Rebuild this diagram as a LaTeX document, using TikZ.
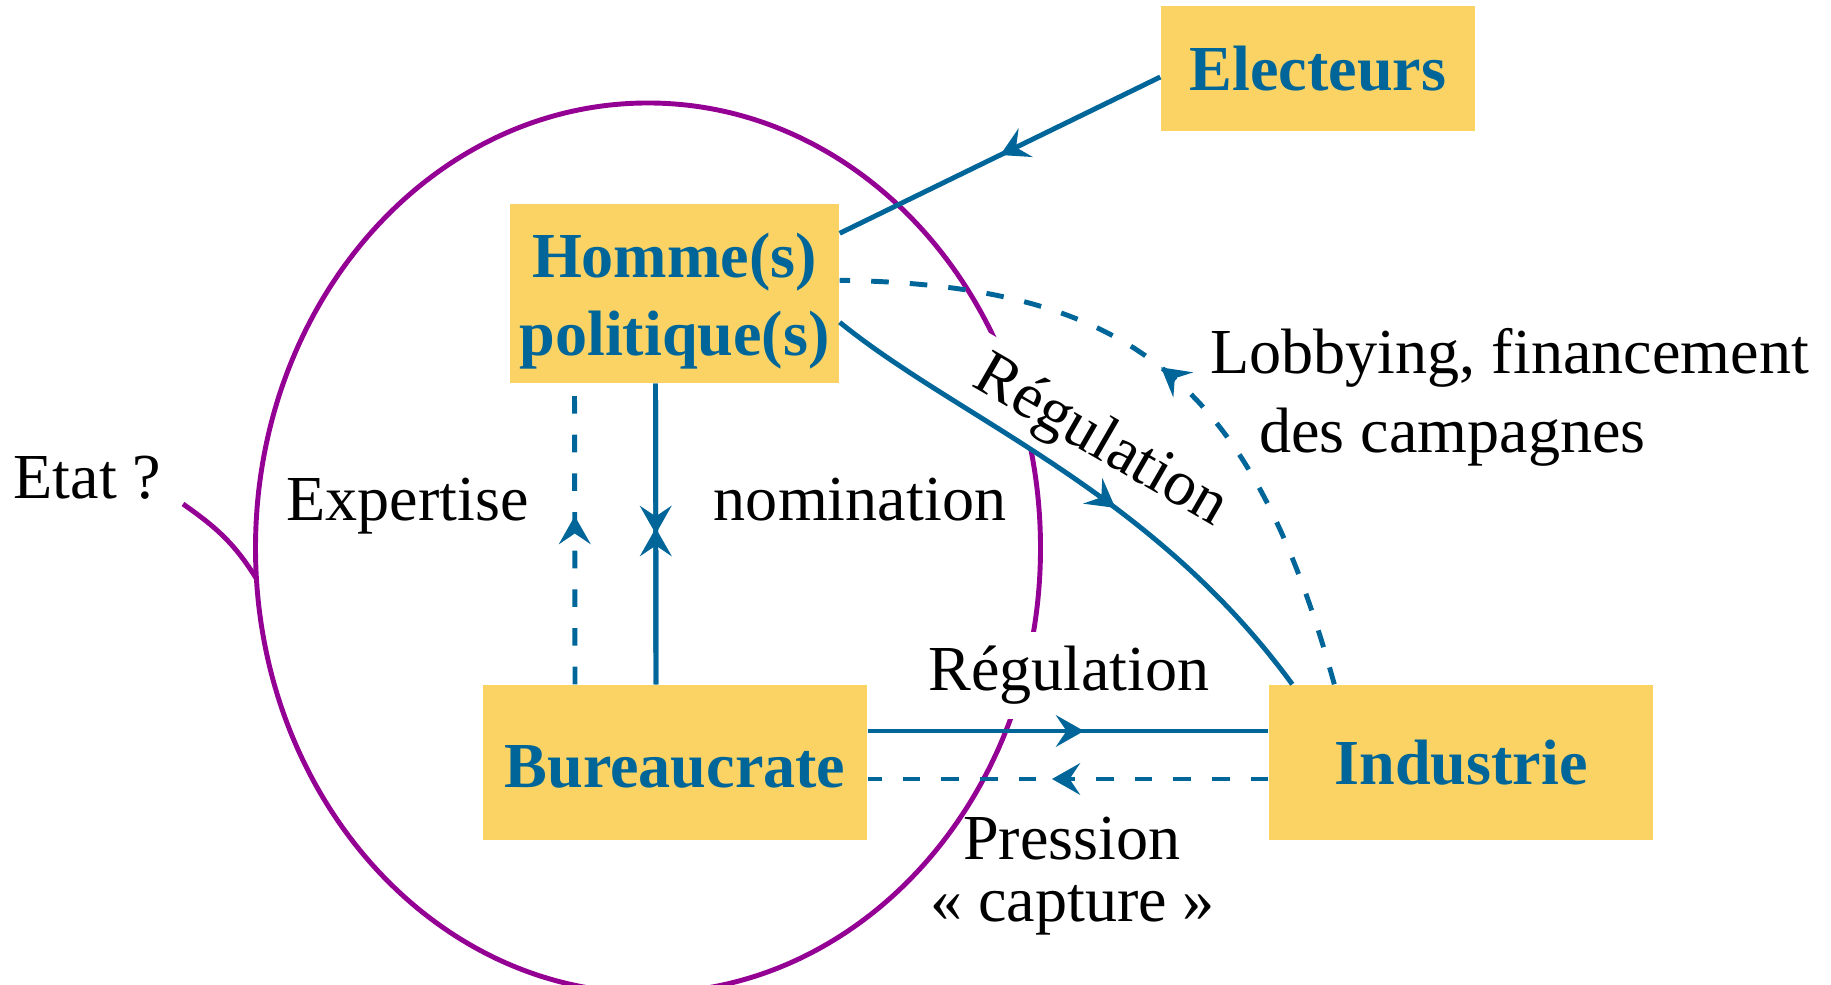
\documentclass[tikz,border=0pt]{standalone}
\usepackage{fontspec}
\setmainfont{Liberation Serif}
\usetikzlibrary{arrows.meta,decorations.markings}

\definecolor{boxyellow}{RGB}{250,211,100}
\definecolor{textblue}{RGB}{0,102,153}
\definecolor{etatpurple}{RGB}{148,0,148}

\begin{document}
\begin{tikzpicture}[
    every node/.style={font=\fontsize{18.25}{22.3}\selectfont},
    box/.style={fill=boxyellow, text=textblue, font=\fontsize{18.25}{22.3}\selectfont\bfseries, align=center, inner sep=0pt},
    flow/.style={draw=textblue, line width=1.4pt},
    dashflow/.style={flow, dash pattern=on 5pt off 6pt},
    arrowat/.style={postaction={decorate, decoration={markings, mark=at position #1 with {\arrow{Stealth[length=8pt, width=9pt, inset=3pt]}}}}},
    etatline/.style={draw=etatpurple, line width=1.4pt}
]
    \useasboundingbox (0,0) rectangle (18.31,9.85);

    % Etat ?
    \draw[etatline] (6.48,4.37) ellipse [x radius=3.925, y radius=4.45];
    \node[anchor=base] (etat) at (0.875,4.86) {Etat ?};
    \coordinate (etattail) at (1.83,4.81);
    \coordinate (etatfoot) at (2.56,4.07);
    \draw[etatline] (etattail) to[out=-35, in=122] (etatfoot);

    % labels
    \node[fill=white, inner sep=3pt, rotate=-30] (regup) at (11.0,5.42) {Régulation};
    \node[fill=white, inner sep=4pt, anchor=base] (reglow) at (10.69,2.94) {Régulation};
    \node[anchor=base] (expert) at (4.075,4.64) {Expertise};
    \node[anchor=base] (nomin) at (8.60,4.64) {nomination};
    \node[anchor=base] (press) at (10.72,1.25) {Pression};
    \node[anchor=base] (capt) at (10.725,0.63) {« capture »};
    \node[anchor=west, align=left] (lobby) at (11.98,5.875) {Lobbying, financement\\\hspace*{0.49cm}des campagnes};

    % actors
    \node[box, minimum width=3.14cm, minimum height=1.25cm] (elec) at (13.18,9.165) {Electeurs};
    \node[box, minimum width=3.29cm, minimum height=1.79cm] (hom) at (6.745,6.915) {\rule{0pt}{17pt}Homme(s)\\politique(s)};
    \node[box, minimum width=3.84cm, minimum height=1.55cm] (bur) at (6.75,2.225) {\rule{0pt}{14.5pt}Bureaucrate};
    \node[box, minimum width=3.84cm, minimum height=1.55cm] (ind) at (14.61,2.225) {Industrie};

    % links
    \draw[flow, arrowat=0.5] ([yshift=-0.85mm]elec.west) -- ([yshift=-3mm]hom.north east);
    \draw[dashflow, arrowat=0.52] ([xshift=6.6mm]ind.north west) .. controls (12.50,6.05) and (11.30,7.00) .. ([yshift=-7.7mm]hom.north east);
    \draw[flow, arrowat=0.57] ([yshift=-11.9mm]hom.north east) .. controls (9.60,5.65) and (11.50,4.95) .. ([xshift=2.4mm]ind.north west);
    \draw[dashflow, arrowat=0.56] ([xshift=-10mm]bur.north) -- ([xshift=-10mm]hom.south);
    \draw[flow, arrowat=0.5] ([xshift=-1.9mm]hom.south) -- ([xshift=-1.9mm]bur.north);
    \draw[flow, arrowat=0.52] ([xshift=-1.9mm]bur.north) -- ([xshift=-1.9mm]hom.south);
    \draw[flow, arrowat=0.54] ([yshift=3.15mm]bur.east) -- ([yshift=3.15mm]ind.west);
    \draw[dashflow, arrowat=0.54] ([yshift=-1.65mm]ind.west) -- ([yshift=-1.65mm]bur.east);
\end{tikzpicture}
\end{document}
